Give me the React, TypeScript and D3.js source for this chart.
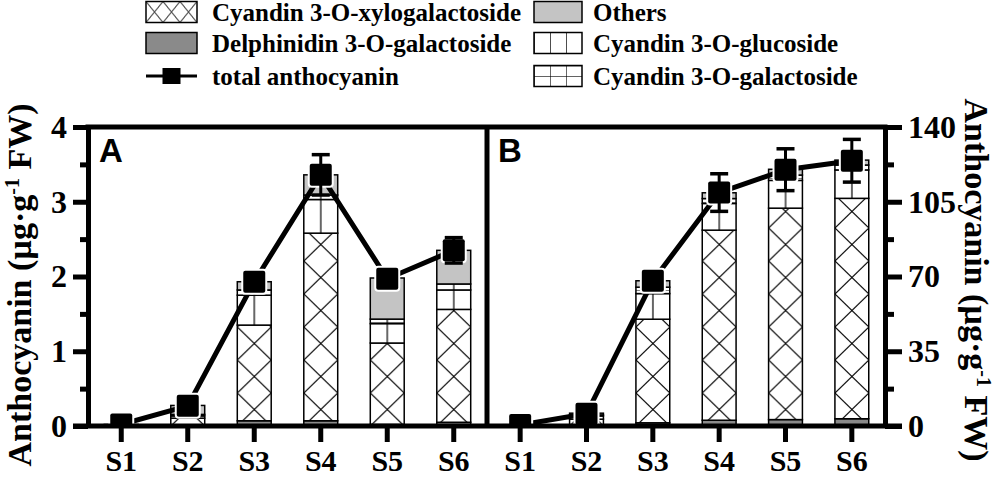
// Externals
import * as d3 from 'd3'
import React, { useRef, useEffect } from 'react'

const categories = ['S1', 'S2', 'S3', 'S4', 'S5', 'S6']
const seriesKeys = ['delph', 'xylo', 'gluc', 'galac', 'others']

// Panel A, µg·g-1 FW (left axis)
const delphA = [0, 0.005, 0.07, 0.07, 0.02, 0.05]
const xyloA = [0.01, 0.1, 1.28, 2.51, 1.09, 1.51]
const glucA = [0.005, 0.03, 0.4, 0.45, 0.26, 0.26]
const galacA = [0.003, 0.02, 0.07, 0.06, 0.06, 0.08]
const othersA = [0.002, 0.12, 0.11, 0.27, 0.55, 0.45]
const totalA = [0.02, 0.27, 1.93, 3.36, 1.97, 2.35]
const errA = [0.005, 0.02, 0.05, 0.27, 0.07, 0.17]

// Panel B, µg·g-1 FW (right axis)
const delphB = [0.1, 0.2, 1.5, 2.7, 3.0, 3.4]
const xyloB = [0.3, 3.0, 48.5, 89.0, 99.0, 103.2]
const glucB = [0.1, 1.5, 12.0, 12.5, 13.0, 13.3]
const galacB = [0.05, 0.5, 3.0, 2.3, 2.5, 2.3]
const othersB = [0.05, 0.8, 3.0, 2.7, 2.7, 2.3]
const totalB = [0.5, 5.7, 68.0, 109.3, 120.0, 124.2]
const errB = [0.1, 0.5, 1.5, 8.8, 9.8, 10.0]

const leftTicks = [0, 1, 2, 3, 4]
const leftMinorTicks = [0.5, 1.5, 2.5, 3.5]
const rightTicks = [0, 35, 70, 105, 140]
const rightMinorTicks = [17.5, 52.5, 87.5, 122.5]

const legendLeft = [
  { key: 'xylo', label: 'Cyandin 3-O-xylogalactoside' },
  { key: 'delph', label: 'Delphinidin 3-O-galactoside' },
  { key: 'total', label: 'total anthocyanin' },
]
const legendRight = [
  { key: 'others', label: 'Others' },
  { key: 'gluc', label: 'Cyandin 3-O-glucoside' },
  { key: 'galac', label: 'Cyandin 3-O-galactoside' },
]

const SERIF = '"Liberation Serif", "Times New Roman", serif'
const SANS = '"Liberation Sans", Arial, sans-serif'

const AnthocyaninChart = () => {
  const ref = useRef<SVGSVGElement | null>(null)

  useEffect(() => {
    const svg = d3.select(ref.current)
    svg.selectAll('*').remove()

    const y0 = 426
    const yTop = 127
    const xLeft = 88
    const xMid = 487
    const xRight = 885
    const bw = 34

    const defs = svg.append('defs')

    // pattern helper: builds a white tile and lets caller add lines
    const makePattern = (id: string, w: number, h: number, yOff: number, draw: (p: any) => void) => {
      const p = defs.append('pattern')
        .attr('id', id)
        .attr('patternUnits', 'userSpaceOnUse')
        .attr('x', 0).attr('y', yOff)
        .attr('width', w).attr('height', h)
      p.append('rect').attr('width', w).attr('height', h).attr('fill', '#fff')
      draw(p)
    }
    const ln = (p, x1, y1, x2, y2, sw = 1.2) => p.append('line')
      .attr('x1', x1).attr('y1', y1).attr('x2', x2).attr('y2', y2)
      .attr('stroke', '#000').attr('stroke-width', sw)

    // bar patterns
    makePattern('xylo-bar', bw, 33, y0, p => { ln(p, 0, 0, bw, 33); ln(p, bw, 0, 0, 33) })
    makePattern('gluc-bar', bw, 200, y0, p => { ln(p, bw / 2, 0, bw / 2, 200) })
    makePattern('galac-bar', bw, 8, y0, p => { ln(p, bw / 2, 0, bw / 2, 8); ln(p, 0, 0, bw, 0) })
    // legend patterns
    makePattern('xylo-leg', 17, 21, 0, p => { ln(p, 0, 0, 17, 21, 1); ln(p, 17, 0, 0, 21, 1) })
    makePattern('gluc-leg', 16, 21, 0, p => { ln(p, 0, 0, 0, 21, 1.4) })
    makePattern('galac-leg', 16, 10.5, 0, p => { ln(p, 0, 0, 0, 10.5, 1.2); ln(p, 0, 0, 16, 0, 1.2) })

    const fillFor = (key: string, kind: string) => {
      if (key === 'delph') return '#8a8a8a'
      if (key === 'others') return '#c4c4c4'
      return `url(#${key}-${kind})`
    }

    defs.append('clipPath').attr('id', 'plot-clip')
      .append('rect').attr('x', 0).attr('y', 0).attr('width', 1000).attr('height', y0)

    const panels = [
      {
        x0: xLeft, x1: xMid, max: 4, letter: 'A',
        values: [delphA, xyloA, glucA, galacA, othersA], total: totalA, err: errA,
      },
      {
        x0: xMid, x1: xRight, max: 140, letter: 'B',
        values: [delphB, xyloB, glucB, galacB, othersB], total: totalB, err: errB,
      },
    ]

    const scales: any[] = []

    panels.forEach(panel => {
      const x = d3.scaleBand().domain(categories).range([panel.x0, panel.x1])
        .paddingInner(0.49).paddingOuter(0.245)
      const y = d3.scaleLinear().domain([0, panel.max]).range([y0, yTop])
      scales.push(y)

      const rows = categories.map((c, i) => {
        const r: any = { cat: c }
        seriesKeys.forEach((k, j) => { r[k] = panel.values[j][i] })
        return r
      })
      const stack = d3.stack().keys(seriesKeys)(rows)

      const g = svg.append('g').attr('clip-path', 'url(#plot-clip)')

      // stacked bars
      const barG = g.selectAll('g.bar').data(categories).join('g')
        .attr('class', 'bar')
        .attr('transform', c => `translate(${x(c)},0)`)
      barG.selectAll('rect')
        .data((c, i) => stack.map(layer => ({ key: layer.key, v: layer[i] })))
        .join('rect')
        .attr('x', 0)
        .attr('width', x.bandwidth())
        .attr('y', d => y(d.v[1]))
        .attr('height', d => Math.max(0, y(d.v[0]) - y(d.v[1])))
        .attr('fill', d => fillFor(d.key, 'bar'))
        .attr('stroke', '#000')
        .attr('stroke-width', 1.5)

      const cx = (i: number) => (x(categories[i]) as number) + x.bandwidth() / 2

      // total line
      const line = d3.line<number>().x((d, i) => cx(i)).y(d => y(d))
      g.append('path')
        .datum(panel.total)
        .attr('d', line)
        .attr('fill', 'none')
        .attr('stroke', '#000')
        .attr('stroke-width', 5)

      // markers
      g.selectAll('rect.marker').data(panel.total).join('rect')
        .attr('class', 'marker')
        .attr('x', (d, i) => cx(i) - 11)
        .attr('y', d => y(d) - 11)
        .attr('width', 22).attr('height', 22)
        .attr('rx', 2)
        .attr('fill', '#000')
        .attr('stroke', '#fff')
        .attr('stroke-width', 4)
        .attr('paint-order', 'stroke')

      // error bars
      panel.total.forEach((t, i) => {
        const e = panel.err[i]
        const hi = y(t + e)
        const lo = y(t - e)
        if (lo - hi < 24) return
        g.append('line').attr('x1', cx(i)).attr('x2', cx(i)).attr('y1', hi).attr('y2', lo)
          .attr('stroke', '#000').attr('stroke-width', 3)
        ;[hi, lo].forEach(yy => {
          g.append('line').attr('x1', cx(i) - 9).attr('x2', cx(i) + 9).attr('y1', yy).attr('y2', yy)
            .attr('stroke', '#000').attr('stroke-width', 3.5)
        })
      })

      // category axis ticks and labels
      const xAxis = svg.append('g')
        .attr('transform', `translate(0,${y0})`)
        .call(d3.axisBottom(x).tickSize(16).tickPadding(8).tickSizeOuter(0))
      xAxis.select('.domain').remove()
      xAxis.selectAll('.tick line').attr('stroke-width', 5)
      xAxis.selectAll('.tick text')
        .style('font-family', SERIF).style('font-weight', 'bold').style('font-size', '30px')
        .attr('fill', '#000')

      // panel letter
      svg.append('text')
        .attr('x', panel.x0 + 11).attr('y', 162)
        .style('font-family', SANS).style('font-weight', 'bold').style('font-size', '33px')
        .text(panel.letter)
    })

    const [yA, yB] = scales

    // left axis
    const leftAxis = svg.append('g').attr('transform', `translate(${xLeft},0)`)
      .call(d3.axisLeft(yA).tickValues(leftTicks).tickFormat(d3.format('d')).tickSize(15).tickPadding(6).tickSizeOuter(0))
    svg.append('g').attr('transform', `translate(${xLeft},0)`)
      .call(d3.axisLeft(yA).tickValues(leftMinorTicks).tickSize(8).tickFormat(() => '').tickSizeOuter(0))
      .call(a => a.select('.domain').remove())
      .selectAll('.tick line').attr('stroke-width', 5)

    // right axis
    const rightAxis = svg.append('g').attr('transform', `translate(${xRight},0)`)
      .call(d3.axisRight(yB).tickValues(rightTicks).tickFormat(d3.format('d')).tickSize(17).tickPadding(6).tickSizeOuter(0))
    svg.append('g').attr('transform', `translate(${xRight},0)`)
      .call(d3.axisRight(yB).tickValues(rightMinorTicks).tickSize(9).tickFormat(() => '').tickSizeOuter(0))
      .call(a => a.select('.domain').remove())
      .selectAll('.tick line').attr('stroke-width', 5)

    ;[leftAxis, rightAxis].forEach(a => {
      a.select('.domain').attr('stroke-width', 5)
      a.selectAll('.tick line').attr('stroke-width', 5)
      a.selectAll('.tick text')
        .style('font-family', SERIF).style('font-weight', 'bold').style('font-size', '32px')
        .attr('fill', '#000')
    })

    // frame: top border, divider, baseline
    const frame = svg.append('g').attr('stroke', '#000').attr('stroke-width', 5)
    frame.append('line').attr('x1', xLeft - 2.5).attr('x2', xRight + 2.5).attr('y1', yTop).attr('y2', yTop)
    frame.append('line').attr('x1', xMid).attr('x2', xMid).attr('y1', yTop).attr('y2', y0)
    frame.append('line').attr('x1', xLeft - 15).attr('x2', xRight + 17).attr('y1', y0).attr('y2', y0)

    // axis titles
    const title = (xPos: number, yPos: number, rot: number) => {
      const t = svg.append('text')
        .attr('transform', `translate(${xPos},${yPos}) rotate(${rot})`)
        .attr('text-anchor', 'middle')
        .style('font-family', SERIF).style('font-weight', 'bold').style('font-size', '34px')
      t.append('tspan').text('Anthocyanin (µg·g')
      t.append('tspan').attr('dy', -12).style('font-size', '20px').text('-1')
      t.append('tspan').attr('dy', 12).text(' FW)')
    }
    title(31, 285, -90)
    title(965, 280, 90)

    // legend
    const rowY = [12, 43, 76]
    const drawLegend = (items, sx: number, sw: number, tx: number) => {
      items.forEach((it, i) => {
        const cy = rowY[i]
        if (it.key === 'total') {
          svg.append('line').attr('x1', sx).attr('x2', sx + sw).attr('y1', cy).attr('y2', cy)
            .attr('stroke', '#000').attr('stroke-width', 3)
          svg.append('rect').attr('x', sx + sw / 2 - 9).attr('y', cy - 8).attr('width', 18).attr('height', 16)
            .attr('fill', '#000')
        } else {
          svg.append('g').attr('transform', `translate(${sx},${cy - 10.5})`)
            .append('rect').attr('width', sw).attr('height', 21)
            .attr('fill', fillFor(it.key, 'leg'))
            .attr('stroke', '#000').attr('stroke-width', 1.5)
        }
        svg.append('text')
          .attr('x', tx).attr('y', cy + 9)
          .style('font-family', SERIF).style('font-weight', 'bold').style('font-size', '25px')
          .text(it.label)
      })
    }
    drawLegend(legendLeft, 146, 51, 212)
    drawLegend(legendRight, 534, 48, 593)
  }, [])

  return (
    <svg ref={ ref } width={ 1000 } height={ 480 } style={{ position: 'absolute', left: 0, top: 0, background: '#fff' }} />
  )
}

export default function App() {
  return <AnthocyaninChart />
}
